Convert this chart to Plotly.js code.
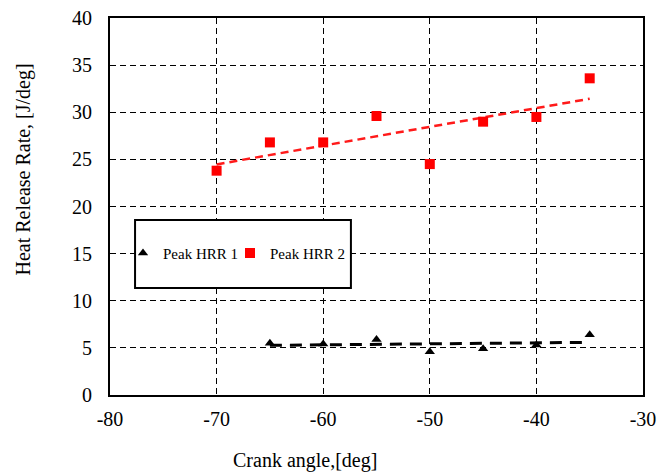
<!DOCTYPE html>
<html><head><meta charset="utf-8">
<script src="https://cdn.plot.ly/plotly-3.0.1.min.js"></script>
<style>body{margin:0;background:#fff}#c{width:667px;height:473px}</style>
</head><body><div id="c"></div>
<script>
const angle1 = [-65, -60, -55, -50, -45, -40, -35];
const hrr1 = [5.5, 5.4, 5.9, 4.6, 4.9, 5.3, 6.4];
const angle2 = [-70, -65, -60, -55, -50, -45, -40, -35];
const hrr2 = [23.8, 26.8, 26.8, 29.6, 24.5, 29.0, 29.5, 33.6];
const seriesNames = ["Peak HRR 1", "Peak HRR 2"];
const xTickVals = [-80, -70, -60, -50, -40, -30];
const xTickText = ["-80", "-70", "-60", "-50", "-40", "-30"];
const yTickVals = [0, 5, 10, 15, 20, 25, 30, 35, 40];
const yTickText = ["0", "5", "10", "15", "20", "25", "30", "35", "40"];

function linfit(x, y) {
  const n = x.length;
  const mx = x.reduce((a, b) => a + b, 0) / n;
  const my = y.reduce((a, b) => a + b, 0) / n;
  let sxy = 0, sxx = 0;
  for (let i = 0; i < n; i++) { sxy += (x[i] - mx) * (y[i] - my); sxx += (x[i] - mx) ** 2; }
  const m = sxy / sxx, b = my - m * mx;
  const xs = [Math.min(...x), Math.max(...x)];
  return { x: xs, y: xs.map(v => m * v + b) };
}
const t1 = linfit(angle1, hrr1);
const t2 = linfit(angle2, hrr2);

const font = "Liberation Serif, Times New Roman, serif";
const data = [
  { x: t1.x, y: t1.y, mode: "lines", line: { color: "black", width: 3, dash: "12px,8px" }, showlegend: false, hoverinfo: "skip" },
  { x: t2.x, y: t2.y, mode: "lines", line: { color: "#ff1a1a", width: 2.5, dash: "8px,5px" }, showlegend: false, hoverinfo: "skip" },
  { x: angle1, y: hrr1, mode: "markers", name: seriesNames[0], legend: "legend", marker: { symbol: "triangle-up", size: 9, color: "black" } },
  { x: angle2, y: hrr2, mode: "markers", name: seriesNames[1], legend: "legend2", marker: { symbol: "square", size: 10, color: "#ff0000" } }
];
const gridStyle = { showgrid: true, gridcolor: "black", griddash: "6px,4px", gridwidth: 1,
  zeroline: false, showline: true, linecolor: "black", linewidth: 2, mirror: true, ticks: "" };
const legendBase = {
  orientation: "h", y: 0.376, xanchor: "left", yanchor: "middle",
  bgcolor: "rgba(0,0,0,0)", borderwidth: 0,
  font: { family: font, size: 15, color: "black" }, itemwidth: 30
};
const layout = {
  width: 667, height: 473,
  margin: { l: 110, r: 24, t: 18, b: 78 },
  paper_bgcolor: "white", plot_bgcolor: "white",
  font: { family: font, size: 20, color: "black" },
  showlegend: true,
  legend: Object.assign({}, legendBase, { x: (123 - 110) / 533 }),
  legend2: Object.assign({}, legendBase, { x: (230 - 110) / 533 }),
  xaxis: Object.assign({}, gridStyle, {
    range: [-80, -30], tickmode: "array", tickvals: xTickVals, ticktext: xTickText,
    tickfont: { family: font, size: 20 }, ticklabelstandoff: 5
  }),
  yaxis: Object.assign({}, gridStyle, {
    range: [0, 40], tickmode: "array", tickvals: yTickVals, ticktext: yTickText,
    tickfont: { family: font, size: 20 }, ticklabelstandoff: 12
  }),
  shapes: [
    { type: "rect", xref: "paper", yref: "paper", x0: 0.047, x1: 0.452, y0: 0.284, y1: 0.464,
      fillcolor: "white", line: { color: "black", width: 2 }, layer: "above" }
  ],
  annotations: [
    { text: "Crank angle,[deg]", xref: "paper", yref: "paper", x: (305 - 110) / 533, y: (395 - 460) / 377,
      xanchor: "center", yanchor: "middle", showarrow: false, font: { family: font, size: 20 } },
    { text: "Heat Release Rate, [J/deg]", xref: "paper", yref: "paper", x: (23 - 110) / 533, y: (395 - 169.5) / 377,
      xanchor: "center", yanchor: "middle", textangle: -90, showarrow: false, font: { family: font, size: 20 } }
  ]
};
Plotly.newPlot("c", data, layout, { displayModeBar: false, staticPlot: true });
</script></body></html>
